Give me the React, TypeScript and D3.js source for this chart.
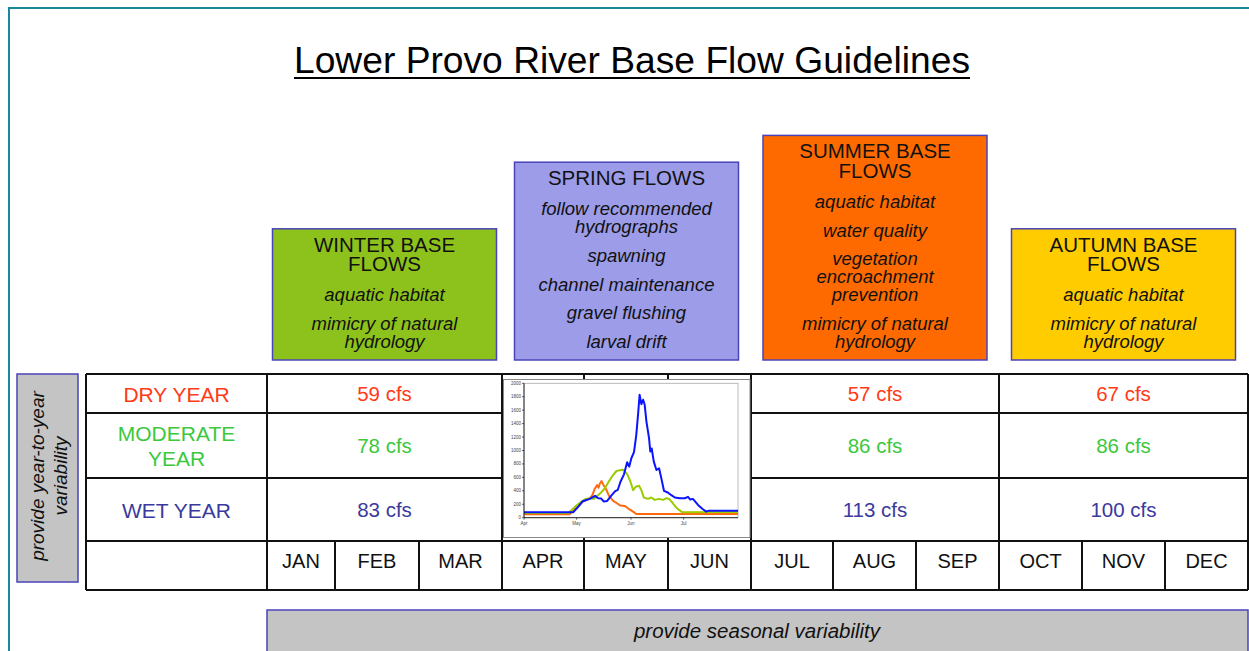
import React, { useEffect } from "react";
import * as d3 from "d3";

// ---------- data ----------
const TITLE = "Lower Provo River Base Flow Guidelines";
const MONTHS = ["JAN", "FEB", "MAR", "APR", "MAY", "JUN", "JUL", "AUG", "SEP", "OCT", "NOV", "DEC"];
const YEAR_TYPES = [["DRY YEAR"], ["MODERATE", "YEAR"], ["WET YEAR"]];
const YEAR_COLORS = ["#ff3a17", "#3cc83c", "#3a3a9e"];
const WINTER_CFS = [59, 78, 83];
const SUMMER_CFS = [57, 86, 113];
const AUTUMN_CFS = [67, 86, 100];

const SEASON_TITLES = [["WINTER BASE", "FLOWS"], ["SPRING FLOWS"], ["SUMMER BASE", "FLOWS"], ["AUTUMN BASE", "FLOWS"]];
const SEASON_ITEMS = [
  [["aquatic habitat"], ["mimicry of natural", "hydrology"]],
  [["follow recommended", "hydrographs"], ["spawning"], ["channel maintenance"], ["gravel flushing"], ["larval drift"]],
  [["aquatic habitat"], ["water quality"], ["vegetation", "encroachment", "prevention"], ["mimicry of natural", "hydrology"]],
  [["aquatic habitat"], ["mimicry of natural", "hydrology"]],
];
const SEASON_FILLS = ["#8dc21c", "#9c9ce8", "#ff6a00", "#ffcc00"];

// hydrograph inset: [day since Apr 1, cfs]
const HYDRO_TICKS_Y = [0, 200, 400, 600, 800, 1000, 1200, 1400, 1600, 1800, 2000];
const HYDRO_MONTHS = ["Apr", "May", "Jun", "Jul"];
const HYDRO_MONTH_DAYS = [0, 30, 61, 91];
const WET_HYDRO: [number, number][] = [
  [0, 80], [28, 80], [31, 165], [33.5, 245], [37.5, 280], [40.5, 325], [42.3, 290], [44, 285], [45.5, 240],
  [47.4, 250], [50, 335], [52, 395], [53.5, 415], [55, 535], [57, 645], [58.8, 825], [60, 760], [61.2, 885],
  [62.7, 975], [64, 1230], [65, 1530], [65.9, 1830], [66.9, 1690], [67.9, 1755], [68.8, 1680], [69.8, 1430],
  [71.3, 1180], [72, 985], [72.8, 1030], [74, 835], [75.5, 710], [77, 735], [78.3, 585], [79.8, 400], [82, 375],
  [84, 335], [86, 300], [88.7, 290], [91.6, 290], [93.5, 310], [94.8, 270], [96.3, 280], [99.2, 190],
  [102, 125], [103.9, 90], [105.4, 105], [122, 105],
];
const MODERATE_HYDRO: [number, number][] = [
  [0, 70], [25, 70], [27.2, 115], [29.9, 180], [32.7, 240], [35.2, 280], [37.5, 290], [39.8, 280], [43.2, 355],
  [46, 435], [48.5, 545], [50.8, 635], [52.7, 695], [54.6, 705], [56.5, 715], [58, 675], [59.1, 635], [60.7, 535],
  [62.2, 410], [63.7, 460], [65.6, 475], [66.9, 410], [68.3, 300], [70.7, 280], [72.6, 300], [74.5, 265],
  [77, 280], [79.3, 265], [81.2, 290], [82.7, 280], [84.9, 215], [87.2, 140], [89.7, 90], [90.6, 80], [122, 85],
];
const DRY_HYDRO: [number, number][] = [
  [0, 50], [26, 50], [29.9, 150], [33.7, 240], [37.1, 280], [39, 335], [40.4, 435], [41.7, 485], [42.5, 445],
  [43.2, 505], [44.2, 545], [45.1, 495], [46.6, 435], [48.5, 325], [50.8, 250], [53, 215], [55, 180],
  [57.4, 175], [59.3, 140], [62.2, 90], [64, 55], [122, 55],
];
const HYDRO_SERIES = [
  { data: DRY_HYDRO, color: "#ff6a10" },
  { data: MODERATE_HYDRO, color: "#9acc00" },
  { data: WET_HYDRO, color: "#0a14ff" },
];

// ---------- layout ----------
const W = 1249, H = 651;
const FONT = "'Liberation Sans', Arial, Helvetica, sans-serif";
const MONTH_EDGES = [267, 335, 419, 502, 584, 668, 751, 833, 916, 999, 1082, 1165, 1248];
const TABLE_LEFT = 86;
const ROW_EDGES = [374, 413, 478, 541, 590];
const BOX_BOTTOM = 360;
const BOX_HALF = 112;

type Block = { lines: string[]; y: number; italic: boolean; step: number };

export default function App() {
  useEffect(() => {
    document.body.style.margin = "0";
  }, []);

  const groupEdges = [0, 3, 6, 9, 12].map((i) => MONTH_EDGES[i]);
  const groupCenters = [0, 1, 2, 3].map((g) => (groupEdges[g] + groupEdges[g + 1]) / 2);

  // inset scales
  const ix = d3.scaleLinear().domain([0, 122]).range([524, 738]);
  const iy = d3.scaleLinear().domain([0, 2000]).range([517.7, 383.3]);
  const line = d3.line<[number, number]>().x((d) => ix(d[0])).y((d) => iy(d[1]));

  const stroke = "#111";
  const sw = 2;

  // season boxes
  const boxes = SEASON_TITLES.map((titles, si) => {
    const blocks: Block[] = [];
    let yy = 0;
    blocks.push({ lines: titles, y: 0, italic: false, step: 19.5 });
    yy += (titles.length - 1) * 19.5;
    SEASON_ITEMS[si].forEach((item, ii) => {
      yy += ii === 0 ? 31 : 28.7;
      blocks.push({ lines: item, y: yy, italic: true, step: 18 });
      yy += (item.length - 1) * 18;
    });
    const height = 15 + yy + 19;
    const top = BOX_BOTTOM - height;
    return { top, height, blocks: blocks.map((b) => ({ ...b, y: b.y + top + 15 })), cx: groupCenters[si] };
  });

  const valueGroups = [
    { g: 0, vals: WINTER_CFS },
    { g: 2, vals: SUMMER_CFS },
    { g: 3, vals: AUTUMN_CFS },
  ];

  const rowCenter = (r: number) => (ROW_EDGES[r] + ROW_EDGES[r + 1]) / 2;

  return (
    <svg width={W} height={H} style={{ display: "block", fontFamily: FONT }}>
      <rect x={0} y={0} width={W} height={H} fill="#fff" />
      {/* frame */}
      <path d={`M9,${H} V8 H${W}`} fill="none" stroke="#17899a" strokeWidth={2} />

      {/* title */}
      <text x={632} y={73} textAnchor="middle" fontSize={37} fill="#000" textLength={676} lengthAdjust="spacingAndGlyphs">
        {TITLE}
      </text>
      <line x1={294} x2={970} y1={78} y2={78} stroke="#000" strokeWidth={2} />

      {/* season boxes */}
      {boxes.map((b, i) => (
        <g key={i}>
          <rect x={b.cx - BOX_HALF} y={b.top} width={BOX_HALF * 2} height={b.height}
            fill={SEASON_FILLS[i]} stroke="#4b44b8" strokeWidth={1.5} />
          {b.blocks.map((bl, j) => (
            <text key={j} textAnchor="middle" dominantBaseline="central"
              fontSize={bl.italic ? 18.5 : 20.5} fontStyle={bl.italic ? "italic" : "normal"} fill="#111">
              {bl.lines.map((t, k) => (
                <tspan key={k} x={b.cx} y={bl.y + k * bl.step}>{t}</tspan>
              ))}
            </text>
          ))}
        </g>
      ))}

      {/* left variability box */}
      <rect x={17} y={374} width={61} height={208} fill="#c4c4c4" stroke="#4b44b8" strokeWidth={1.5} />
      <g transform="translate(48,476) rotate(-90)">
        <text textAnchor="middle" dominantBaseline="central" fontSize={19} fontStyle="italic" fill="#111">
          <tspan x={0} y={-11}>provide year-to-year</tspan>
          <tspan x={0} y={12}>variability</tspan>
        </text>
      </g>

      {/* bottom seasonal box */}
      <rect x={267} y={610} width={981} height={60} fill="#c4c4c4" stroke="#4b44b8" strokeWidth={1.5} />
      <text x={757} y={630} textAnchor="middle" dominantBaseline="central" fontSize={20.5} fontStyle="italic" fill="#111">
        provide seasonal variability
      </text>

      {/* table: row labels */}
      {YEAR_TYPES.map((lbl, r) => (
        <text key={r} textAnchor="middle" dominantBaseline="central" fontSize={21} fill={YEAR_COLORS[r]}>
          {lbl.map((t, k) => (
            <tspan key={k} x={(TABLE_LEFT + MONTH_EDGES[0]) / 2}
              y={rowCenter(r) + (k - (lbl.length - 1) / 2) * 25}>
              {t}
            </tspan>
          ))}
        </text>
      ))}

      {/* values */}
      {valueGroups.map((vg) =>
        vg.vals.map((v, r) => (
          <text key={`${vg.g}-${r}`} x={groupCenters[vg.g]} y={rowCenter(r)} textAnchor="middle"
            dominantBaseline="central" fontSize={20.5} fill={YEAR_COLORS[r]}>
            {`${v} cfs`}
          </text>
        ))
      )}

      {/* months */}
      {MONTHS.map((m, i) => (
        <text key={m} x={(MONTH_EDGES[i] + MONTH_EDGES[i + 1]) / 2} y={rowCenter(3) - 5} textAnchor="middle"
          dominantBaseline="central" fontSize={20} fill="#111">
          {m}
        </text>
      ))}

      {/* table lines */}
      <g stroke={stroke} strokeWidth={sw} fill="none">
        {ROW_EDGES.map((yv, r) => {
          if (r === 0 || r === ROW_EDGES.length - 1 || r === 3) {
            return <line key={r} x1={TABLE_LEFT} x2={MONTH_EDGES[12]} y1={yv} y2={yv} />;
          }
          return (
            <g key={r}>
              <line x1={TABLE_LEFT} x2={groupEdges[1]} y1={yv} y2={yv} />
              <line x1={groupEdges[2]} x2={MONTH_EDGES[12]} y1={yv} y2={yv} />
            </g>
          );
        })}
        {[TABLE_LEFT, ...groupEdges].map((xv, i) => (
          <line key={`gv${i}`} x1={xv} x2={xv} y1={ROW_EDGES[0]} y2={ROW_EDGES[4]} />
        ))}
        {MONTH_EDGES.map((xv, i) => {
          if (i % 3 === 0) return null;
          const inSpring = i === 4 || i === 5;
          return <line key={`mv${i}`} x1={xv} x2={xv} y1={inSpring ? ROW_EDGES[0] : ROW_EDGES[3]} y2={ROW_EDGES[4]} />;
        })}
      </g>

      {/* hydrograph inset */}
      <g>
        <rect x={503.5} y={379.5} width={246.5} height={158} fill="#fff" stroke="#888" strokeWidth={1} />
        <rect x={ix(0)} y={iy(2000)} width={ix(122) - ix(0)} height={iy(0) - iy(2000)} fill="#fff"
          stroke="#aaa" strokeWidth={0.8} />
        {HYDRO_SERIES.map((s, i) => (
          <path key={i} d={line(s.data) || ""} fill="none" stroke={s.color} strokeWidth={2}
            strokeLinejoin="round" />
        ))}
        <line x1={ix(0)} x2={ix(0)} y1={iy(2000)} y2={iy(0)} stroke="#000" strokeWidth={0.8} />
        <line x1={ix(0)} x2={ix(122)} y1={iy(0)} y2={iy(0)} stroke="#000" strokeWidth={0.8} />
        {HYDRO_TICKS_Y.map((t) => (
          <g key={t}>
            <line x1={ix(0) - 2} x2={ix(0)} y1={iy(t)} y2={iy(t)} stroke="#000" strokeWidth={0.6} />
            <text x={ix(0) - 3} y={iy(t)} textAnchor="end" dominantBaseline="central" fontSize={4.5} fill="#444">
              {t}
            </text>
          </g>
        ))}
        {HYDRO_MONTHS.map((m, i) => (
          <g key={m}>
            <line x1={ix(HYDRO_MONTH_DAYS[i])} x2={ix(HYDRO_MONTH_DAYS[i])} y1={iy(0)} y2={iy(0) + 2}
              stroke="#000" strokeWidth={0.6} />
            <text x={ix(HYDRO_MONTH_DAYS[i])} y={iy(0) + 6} textAnchor="middle" dominantBaseline="central"
              fontSize={4.5} fill="#444">
              {m}
            </text>
          </g>
        ))}
      </g>
    </svg>
  );
}
